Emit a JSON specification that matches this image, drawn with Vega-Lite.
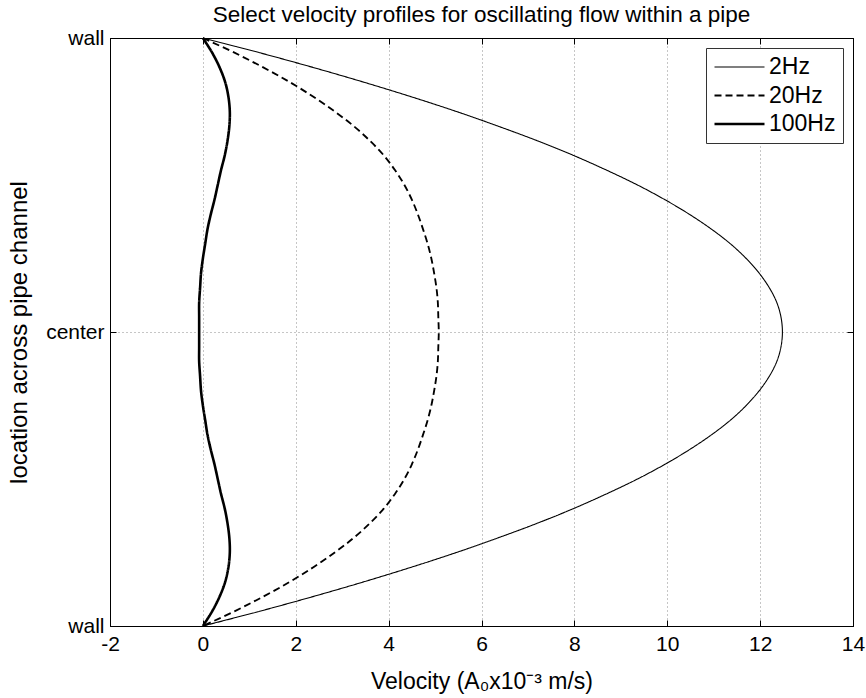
{
  "$schema": "https://vega.github.io/schema/vega-lite/v6.json",
  "autosize": {"type": "none"},
  "width": 743,
  "height": 588,
  "padding": {"left": 110, "top": 38, "right": 13, "bottom": 72},
  "background": "white",
  "title": {
    "text": "Select velocity profiles for oscillating flow within a pipe",
    "font": "Liberation Sans",
    "fontSize": 22.5,
    "fontWeight": "normal",
    "color": "black",
    "anchor": "middle",
    "offset": 1
  },
  "config": {
    "view": {"stroke": "black", "strokeWidth": 1},
    "font": "Liberation Sans",
    "axis": {
      "labelFont": "Liberation Sans",
      "titleFont": "Liberation Sans",
      "labelColor": "black",
      "titleColor": "black",
      "domainColor": "black",
      "tickColor": "black",
      "titleFontWeight": "normal",
      "gridColor": "#8c8c8c",
      "gridDash": [1, 3],
      "gridWidth": 1,
      "gridOpacity": 1
    }
  },
  "datasets": {
    "profiles": [
      {"f": "2Hz", "y": 1.0, "v": 0.0},
      {"f": "2Hz", "y": 0.95, "v": 1.22},
      {"f": "2Hz", "y": 0.9, "v": 2.37},
      {"f": "2Hz", "y": 0.85, "v": 3.46},
      {"f": "2Hz", "y": 0.8, "v": 4.49},
      {"f": "2Hz", "y": 0.75, "v": 5.46},
      {"f": "2Hz", "y": 0.7, "v": 6.36},
      {"f": "2Hz", "y": 0.65, "v": 7.21},
      {"f": "2Hz", "y": 0.6, "v": 7.99},
      {"f": "2Hz", "y": 0.55, "v": 8.7},
      {"f": "2Hz", "y": 0.5, "v": 9.36},
      {"f": "2Hz", "y": 0.45, "v": 9.95},
      {"f": "2Hz", "y": 0.4, "v": 10.48},
      {"f": "2Hz", "y": 0.35, "v": 10.95},
      {"f": "2Hz", "y": 0.3, "v": 11.36},
      {"f": "2Hz", "y": 0.25, "v": 11.7},
      {"f": "2Hz", "y": 0.2, "v": 11.98},
      {"f": "2Hz", "y": 0.15, "v": 12.2},
      {"f": "2Hz", "y": 0.1, "v": 12.36},
      {"f": "2Hz", "y": 0.05, "v": 12.45},
      {"f": "2Hz", "y": 0.0, "v": 12.48},
      {"f": "2Hz", "y": -0.05, "v": 12.45},
      {"f": "2Hz", "y": -0.1, "v": 12.36},
      {"f": "2Hz", "y": -0.15, "v": 12.2},
      {"f": "2Hz", "y": -0.2, "v": 11.98},
      {"f": "2Hz", "y": -0.25, "v": 11.7},
      {"f": "2Hz", "y": -0.3, "v": 11.36},
      {"f": "2Hz", "y": -0.35, "v": 10.95},
      {"f": "2Hz", "y": -0.4, "v": 10.48},
      {"f": "2Hz", "y": -0.45, "v": 9.95},
      {"f": "2Hz", "y": -0.5, "v": 9.36},
      {"f": "2Hz", "y": -0.55, "v": 8.7},
      {"f": "2Hz", "y": -0.6, "v": 7.99},
      {"f": "2Hz", "y": -0.65, "v": 7.21},
      {"f": "2Hz", "y": -0.7, "v": 6.36},
      {"f": "2Hz", "y": -0.75, "v": 5.46},
      {"f": "2Hz", "y": -0.8, "v": 4.49},
      {"f": "2Hz", "y": -0.85, "v": 3.46},
      {"f": "2Hz", "y": -0.9, "v": 2.37},
      {"f": "2Hz", "y": -0.95, "v": 1.22},
      {"f": "2Hz", "y": -1.0, "v": 0.0},

      {"f": "20Hz", "y": 1.0, "v": 0.0},
      {"f": "20Hz", "y": 0.95, "v": 0.68},
      {"f": "20Hz", "y": 0.9, "v": 1.3},
      {"f": "20Hz", "y": 0.85, "v": 1.87},
      {"f": "20Hz", "y": 0.8, "v": 2.38},
      {"f": "20Hz", "y": 0.75, "v": 2.84},
      {"f": "20Hz", "y": 0.7, "v": 3.25},
      {"f": "20Hz", "y": 0.65, "v": 3.6},
      {"f": "20Hz", "y": 0.6, "v": 3.9},
      {"f": "20Hz", "y": 0.55, "v": 4.14},
      {"f": "20Hz", "y": 0.5, "v": 4.34},
      {"f": "20Hz", "y": 0.45, "v": 4.5},
      {"f": "20Hz", "y": 0.4, "v": 4.63},
      {"f": "20Hz", "y": 0.35, "v": 4.74},
      {"f": "20Hz", "y": 0.3, "v": 4.84},
      {"f": "20Hz", "y": 0.25, "v": 4.92},
      {"f": "20Hz", "y": 0.2, "v": 4.98},
      {"f": "20Hz", "y": 0.15, "v": 5.03},
      {"f": "20Hz", "y": 0.1, "v": 5.06},
      {"f": "20Hz", "y": 0.05, "v": 5.07},
      {"f": "20Hz", "y": 0.0, "v": 5.08},
      {"f": "20Hz", "y": -0.05, "v": 5.07},
      {"f": "20Hz", "y": -0.1, "v": 5.06},
      {"f": "20Hz", "y": -0.15, "v": 5.03},
      {"f": "20Hz", "y": -0.2, "v": 4.98},
      {"f": "20Hz", "y": -0.25, "v": 4.92},
      {"f": "20Hz", "y": -0.3, "v": 4.84},
      {"f": "20Hz", "y": -0.35, "v": 4.74},
      {"f": "20Hz", "y": -0.4, "v": 4.63},
      {"f": "20Hz", "y": -0.45, "v": 4.5},
      {"f": "20Hz", "y": -0.5, "v": 4.34},
      {"f": "20Hz", "y": -0.55, "v": 4.14},
      {"f": "20Hz", "y": -0.6, "v": 3.9},
      {"f": "20Hz", "y": -0.65, "v": 3.6},
      {"f": "20Hz", "y": -0.7, "v": 3.25},
      {"f": "20Hz", "y": -0.75, "v": 2.84},
      {"f": "20Hz", "y": -0.8, "v": 2.38},
      {"f": "20Hz", "y": -0.85, "v": 1.87},
      {"f": "20Hz", "y": -0.9, "v": 1.3},
      {"f": "20Hz", "y": -0.95, "v": 0.68},
      {"f": "20Hz", "y": -1.0, "v": 0.0},

      {"f": "100Hz", "y": 1.0, "v": 0.0},
      {"f": "100Hz", "y": 0.95, "v": 0.2},
      {"f": "100Hz", "y": 0.9, "v": 0.36},
      {"f": "100Hz", "y": 0.85, "v": 0.48},
      {"f": "100Hz", "y": 0.8, "v": 0.55},
      {"f": "100Hz", "y": 0.75, "v": 0.58},
      {"f": "100Hz", "y": 0.7, "v": 0.57},
      {"f": "100Hz", "y": 0.65, "v": 0.53},
      {"f": "100Hz", "y": 0.6, "v": 0.47},
      {"f": "100Hz", "y": 0.55, "v": 0.39},
      {"f": "100Hz", "y": 0.5, "v": 0.32},
      {"f": "100Hz", "y": 0.45, "v": 0.25},
      {"f": "100Hz", "y": 0.4, "v": 0.17},
      {"f": "100Hz", "y": 0.35, "v": 0.1},
      {"f": "100Hz", "y": 0.3, "v": 0.05},
      {"f": "100Hz", "y": 0.25, "v": 0.0},
      {"f": "100Hz", "y": 0.2, "v": -0.04},
      {"f": "100Hz", "y": 0.15, "v": -0.06},
      {"f": "100Hz", "y": 0.1, "v": -0.08},
      {"f": "100Hz", "y": 0.05, "v": -0.08},
      {"f": "100Hz", "y": 0.0, "v": -0.08},
      {"f": "100Hz", "y": -0.05, "v": -0.08},
      {"f": "100Hz", "y": -0.1, "v": -0.08},
      {"f": "100Hz", "y": -0.15, "v": -0.06},
      {"f": "100Hz", "y": -0.2, "v": -0.04},
      {"f": "100Hz", "y": -0.25, "v": 0.0},
      {"f": "100Hz", "y": -0.3, "v": 0.05},
      {"f": "100Hz", "y": -0.35, "v": 0.1},
      {"f": "100Hz", "y": -0.4, "v": 0.17},
      {"f": "100Hz", "y": -0.45, "v": 0.25},
      {"f": "100Hz", "y": -0.5, "v": 0.32},
      {"f": "100Hz", "y": -0.55, "v": 0.39},
      {"f": "100Hz", "y": -0.6, "v": 0.47},
      {"f": "100Hz", "y": -0.65, "v": 0.53},
      {"f": "100Hz", "y": -0.7, "v": 0.57},
      {"f": "100Hz", "y": -0.75, "v": 0.58},
      {"f": "100Hz", "y": -0.8, "v": 0.55},
      {"f": "100Hz", "y": -0.85, "v": 0.48},
      {"f": "100Hz", "y": -0.9, "v": 0.36},
      {"f": "100Hz", "y": -0.95, "v": 0.2},
      {"f": "100Hz", "y": -1.0, "v": 0.0}
    ]
  },
  "data": {"name": "profiles"},
  "resolve": {
    "scale": {"x": "independent", "y": "independent"},
    "axis": {"x": "independent", "y": "independent"}
  },
  "layer": [
    {
      "mark": {"type": "line", "color": "black", "interpolate": "catmull-rom", "clip": false},
      "encoding": {
        "x": {
          "field": "v",
          "type": "quantitative",
          "scale": {"domain": [-2, 14], "nice": false, "zero": false},
          "axis": {
            "orient": "bottom",
            "values": [-2, 0, 2, 4, 6, 8, 10, 12, 14],
            "labelExpr": "'' + datum.value",
            "title": "Velocity (A₀x10⁻³ m/s)",
            "titleFontSize": 23,
            "titlePadding": 16,
            "labelFontSize": 21,
            "labelFlush": false,
            "labelPadding": 13,
            "tickSize": -6,
            "grid": true
          }
        },
        "y": {
          "field": "y",
          "type": "quantitative",
          "scale": {"domain": [-1, 1], "nice": false, "zero": false},
          "axis": {
            "orient": "left",
            "values": [-1, 0, 1],
            "labelExpr": "datum.value == 0 ? 'center' : 'wall'",
            "title": "location across pipe channel",
            "titleFontSize": 24,
            "titlePadding": 14,
            "labelFontSize": 21,
            "labelFlush": false,
            "labelPadding": 12,
            "tickSize": -6,
            "grid": true
          }
        },
        "order": {"field": "y", "type": "quantitative", "sort": "descending"},
        "detail": {"field": "f", "type": "nominal"},
        "strokeDash": {
          "field": "f",
          "type": "nominal",
          "scale": {"domain": ["2Hz", "20Hz", "100Hz"], "range": [[1, 0], [7, 4], [1, 0]]},
          "legend": {
            "title": null,
            "orient": "none",
            "legendX": 596,
            "legendY": 10,
            "strokeColor": "#333",
            "fillColor": "white",
            "padding": 7,
            "labelFontSize": 23,
            "labelFont": "Liberation Sans",
            "labelColor": "black",
            "symbolType": "stroke",
            "symbolSize": 2500,
            "symbolStrokeColor": "black",
            "clipHeight": 24,
            "rowPadding": 4.5,
            "labelOffset": 3
          }
        },
        "strokeWidth": {
          "field": "f",
          "type": "nominal",
          "scale": {"domain": ["2Hz", "20Hz", "100Hz"], "range": [1.1, 2.6, 2.6]},
          "legend": {
            "title": null,
            "orient": "none",
            "legendX": 596,
            "legendY": 10,
            "strokeColor": "#333",
            "fillColor": "white",
            "padding": 7,
            "labelFontSize": 23,
            "labelFont": "Liberation Sans",
            "labelColor": "black",
            "symbolType": "stroke",
            "symbolSize": 2500,
            "symbolStrokeColor": "black",
            "clipHeight": 24,
            "rowPadding": 4.5,
            "labelOffset": 3
          }
        }
      }
    },
    {
      "mark": {"type": "point", "opacity": 0},
      "encoding": {
        "x": {
          "field": "v",
          "type": "quantitative",
          "scale": {"domain": [-2, 14], "nice": false, "zero": false},
          "axis": {
            "orient": "top",
            "values": [-2, 0, 2, 4, 6, 8, 10, 12, 14],
            "labels": false,
            "title": null,
            "tickSize": -6,
            "grid": false
          }
        },
        "y": {
          "field": "y",
          "type": "quantitative",
          "scale": {"domain": [-1, 1], "nice": false, "zero": false},
          "axis": {
            "orient": "right",
            "values": [-1, 0, 1],
            "labels": false,
            "title": null,
            "tickSize": -6,
            "grid": false
          }
        }
      }
    }
  ]
}
